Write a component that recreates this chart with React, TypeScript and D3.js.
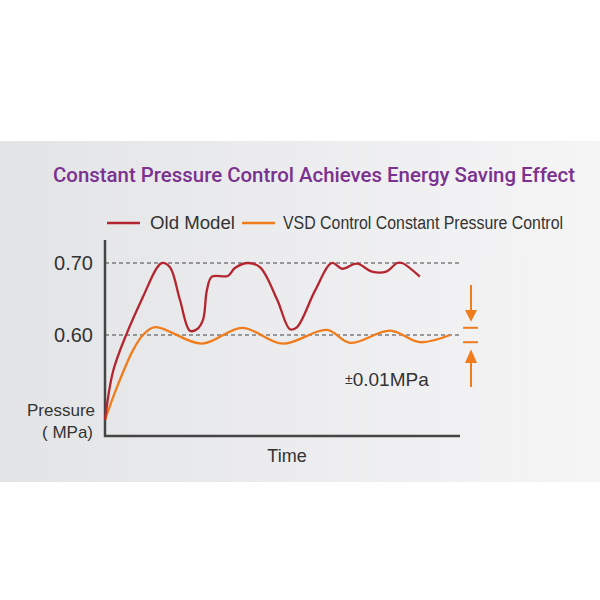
import React from 'react';
import * as d3 from 'd3';

// pressure readings over (arbitrary) time, MPa
const oldTime = [0, 2.3, 6.2, 10.7, 14.6, 16.1, 18.3, 21.1, 23.9, 25.9, 27.6, 28.7, 30.1, 34.6, 36.6, 40.3, 43.7, 48.5, 52.1, 54.1, 59.2, 63.9, 66.8, 71.0, 75.2, 79.2, 82.3, 83.7, 88.7];
const oldPressure = [0.482, 0.550, 0.603, 0.653, 0.693, 0.700, 0.694, 0.649, 0.606, 0.608, 0.621, 0.662, 0.681, 0.682, 0.693, 0.700, 0.694, 0.649, 0.608, 0.611, 0.662, 0.700, 0.692, 0.699, 0.688, 0.688, 0.700, 0.700, 0.681];
const vsdTime = [0, 3.4, 7.9, 10.7, 14.1, 27.3, 38.6, 50.1, 62.5, 69.0, 80.3, 88.7, 97.2];
const vsdPressure = [0.482, 0.528, 0.579, 0.600, 0.611, 0.588, 0.610, 0.588, 0.607, 0.589, 0.606, 0.590, 0.600];

const yTicks = [0.70, 0.60];
const bandValues = [0.61, 0.59];
const seriesNames = ['Old Model', 'VSD Control Constant Pressure Control'];
const seriesColors = ['#b3262f', '#f07c1c'];

const W = 600, H = 600;
const x = d3.scaleLinear().domain([0, 100]).range([105, 460]);
const y = d3.scaleLinear().domain([0.60, 0.70]).range([335, 263]);

const line = d3.line<[number, number]>()
  .x(d => x(d[0]))
  .y(d => y(d[1]))
  .curve(d3.curveCatmullRom.alpha(0.5));

const oldPts = oldTime.map((t, i) => [t, oldPressure[i]] as [number, number]);
const vsdPts = vsdTime.map((t, i) => [t, vsdPressure[i]] as [number, number]);

export default function App() {
  const axisColor = '#454545';
  const arrowX = 471;
  const txt = '"Liberation Sans", Arial, sans-serif';
  return (
    <svg width={W} height={H} style={{ position: 'absolute', left: 0, top: 0, display: 'block' }}>
      <defs>
        <linearGradient id="bg" x1="0" x2="1" y1="0" y2="0">
          <stop offset="0" stopColor="#e3e4e6" />
          <stop offset="1" stopColor="#f5f5f6" />
        </linearGradient>
      </defs>
      <rect x={0} y={0} width={W} height={H} fill="#fff" />
      <rect x={0} y={141} width={W} height={341} fill="url(#bg)" />

      <text x={53} y={182} fontFamily="Roboto, sans-serif" fontWeight={500} fontSize={21} fill="#7a3190" textLength={522} lengthAdjust="spacingAndGlyphs">
        Constant Pressure Control Achieves Energy Saving Effect
      </text>

      {/* legend */}
      <line x1={107} x2={140} y1={223} y2={223} stroke={seriesColors[0]} strokeWidth={2.5} />
      <text x={150} y={229} fontFamily={txt} fontSize={18} fill="#333" textLength={85} lengthAdjust="spacingAndGlyphs">{seriesNames[0]}</text>
      <line x1={242} x2={275} y1={223} y2={223} stroke={seriesColors[1]} strokeWidth={2.5} />
      <text x={283} y={229} fontFamily={txt} fontSize={18} fill="#333" textLength={280} lengthAdjust="spacingAndGlyphs">{seriesNames[1]}</text>

      {/* reference lines */}
      {yTicks.map(v => (
        <g key={v}>
          <line x1={x(0)} x2={462} y1={y(v)} y2={y(v)} stroke="#444" strokeWidth={1.2} strokeDasharray="4,3" />
          <text x={93} y={y(v) + 7} textAnchor="end" fontFamily={txt} fontSize={20} fill="#333">{v.toFixed(2)}</text>
        </g>
      ))}

      {/* axes */}
      <line x1={x(0)} x2={x(0)} y1={240} y2={437} stroke={axisColor} strokeWidth={2.5} />
      <line x1={x(0) - 1} x2={x(100)} y1={436} y2={436} stroke={axisColor} strokeWidth={2.5} />
      <text x={95} y={416} textAnchor="end" fontFamily={txt} fontSize={17} fill="#333">Pressure</text>
      <text x={93} y={438} textAnchor="end" fontFamily={txt} fontSize={17} fill="#333">( MPa)</text>
      <text x={287} y={462} textAnchor="middle" fontFamily={txt} fontSize={18} fill="#333">Time</text>

      {/* series */}
      <path d={line(vsdPts) ?? ''} fill="none" stroke={seriesColors[1]} strokeWidth={2.3} />
      <path d={line(oldPts) ?? ''} fill="none" stroke={seriesColors[0]} strokeWidth={2.3} />

      {/* ±0.01 band marker */}
      {bandValues.map(v => (
        <line key={v} x1={463} x2={478} y1={y(v)} y2={y(v)} stroke={seriesColors[1]} strokeWidth={2} />
      ))}
      <line x1={arrowX} x2={arrowX} y1={285} y2={312} stroke={seriesColors[1]} strokeWidth={2} />
      <path d={`M${arrowX - 6},${310} L${arrowX + 6},${310} L${arrowX},${y(bandValues[0]) - 6} Z`} fill={seriesColors[1]} />
      <line x1={arrowX} x2={arrowX} y1={361} y2={387} stroke={seriesColors[1]} strokeWidth={2} />
      <path d={`M${arrowX - 6},${363} L${arrowX + 6},${363} L${arrowX},${y(bandValues[1]) + 7} Z`} fill={seriesColors[1]} />
      <text x={345} y={386} fontFamily={txt} fontSize={19} fill="#333">
        <tspan fontSize={14} dy={-2}>±</tspan><tspan dy={2}>0.01MPa</tspan>
      </text>
    </svg>
  );
}
